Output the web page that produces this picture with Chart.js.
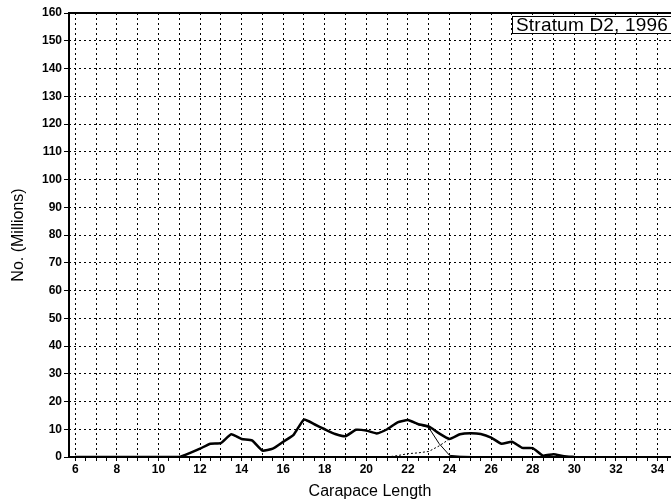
<!DOCTYPE html>
<html>
<head>
<meta charset="utf-8">
<script src="https://cdn.jsdelivr.net/npm/chart.js@4.4.1/dist/chart.umd.min.js"></script>
<style>
  html, body { margin: 0; padding: 0; background: #fff; }
  #wrap { position: relative; width: 671px; height: 504px; }
  #box { position: absolute; left: 512px; top: 16px; width: 170px; height: 16px;
         border: 1.5px solid #000; background: #fff; box-sizing: content-box;
         font: 19px "Liberation Sans", Arial, sans-serif; line-height: 16px;
         padding: 0 0 0 3px; letter-spacing: 0.2px; white-space: nowrap; color: #000; }
</style>
</head>
<body>
<div id="wrap">
  <canvas id="c" width="671" height="504"></canvas>
  <div id="box">Stratum D2, 1996</div>
</div>
<script>
// Carapace length categories (0.5 steps)
const lengths = [6,6.5,7,7.5,8,8.5,9,9.5,10,10.5,11,11.5,12,12.5,13,13.5,14,14.5,15,15.5,16,16.5,17,17.5,18,18.5,19,19.5,20,20.5,21,21.5,22,22.5,23,23.5,24,24.5,25,25.5,26,26.5,27,27.5,28,28.5,29,29.5,30];
// Total abundance (millions) - thick line
const totalValues = [0,0,0,0,0,0,0,0,0,0,0,1.4,3,4.8,5,8.2,6.5,6,2.3,3,5.5,8,13.5,11.8,10,8.3,7.5,9.8,9.5,8.5,10,12.5,13.3,11.8,11,8.5,6.5,8.2,8.6,8.3,7,4.8,5.5,3.3,3.2,0.5,1,0.3,0];
// Component 1 - thin solid line
const comp1Values = [0,0,0,0,0,0,0,0,0,0,0,1.4,3,4.8,5,8.2,6.5,6,2.3,3,5.5,8,13.5,11.8,10,8.3,7.5,9.8,9.5,8.5,10,12.5,13.3,11.6,10.6,4.8,0.6,0.3,0.2,0,0,0,0,0,0,0,0,0,0];
// Component 2 - dotted line
const comp2Values = [0,0,0,0,0,0,0,0,0,0,0,0,0,0,0,0,0,0,0,0,0,0,0,0,0,0,0,0,0,0,0,0.5,1.2,1.5,2,4,6.5,8.2,8.6,8.3,7,4.8,5.5,3.3,3.2,0.5,1,0.3,0];
// Axis tick labels
const xTickLabels = [6,8,10,12,14,16,18,20,22,24,26,28,30,32,34];
const yTickValues = [0,10,20,30,40,50,60,70,80,90,100,110,120,130,140,150,160];

const pts = arr => lengths.map((x, i) => ({x: x, y: arr[i]}));
const FONT = '"Liberation Sans", Arial, Helvetica, sans-serif';

new Chart(document.getElementById('c'), {
  type: 'line',
  data: {
    datasets: [
      { label: 'Component 2', data: pts(comp2Values), borderColor: '#000', borderWidth: 1,
        borderDash: [2, 2], pointRadius: 0, fill: false, tension: 0 },
      { label: 'Component 1', data: pts(comp1Values), borderColor: '#000', borderWidth: 1,
        pointRadius: 0, fill: false, tension: 0 },
      { label: 'Total', data: pts(totalValues), borderColor: '#000', borderWidth: 2.5,
        pointRadius: 0, fill: false, tension: 0.15 }
    ]
  },
  options: {
    responsive: false,
    animation: false,
    layout: { padding: { top: 13, right: 0, left: 0, bottom: 0 } },
    plugins: { legend: { display: false }, tooltip: { enabled: false } },
    scales: {
      x: {
        type: 'linear', min: 5.7, max: 34.65,
        afterBuildTicks: s => {
          const t = [];
          for (let v = 6; v <= 34.5; v += 0.5) t.push({ value: v });
          s.ticks = t;
        },
        afterFit: s => { s.height = 47; },
        ticks: {
          autoSkip: false, maxRotation: 0, padding: 1,
          color: '#000', font: { family: FONT, size: 12, weight: 'bold' },
          callback: v => xTickLabels.includes(v) ? String(v) : ''
        },
        grid: {
          color: ctx => (ctx.tick && Number.isInteger(ctx.tick.value)) ? '#000' : 'rgba(0,0,0,0)',
          lineWidth: 1, tickColor: '#000', tickLength: 4, tickWidth: 1
        },
        border: { display: false, dash: [2, 3] },
        title: { display: true, text: 'Carapace Length', color: '#000',
                 font: { family: FONT, size: 16 }, padding: { top: 0, bottom: 2.5 } }
      },
      y: {
        min: 0, max: 160,
        afterBuildTicks: s => { s.ticks = yTickValues.map(v => ({ value: v })); },
        afterFit: s => { s.width = 69; },
        ticks: { padding: 2, color: '#000', font: { family: FONT, size: 12, weight: 'bold' } },
        grid: { color: '#000', lineWidth: 1, tickColor: '#000', tickLength: 5, tickWidth: 1 },
        border: { display: false, dash: [2, 3] },
        title: { display: true, text: 'No. (Millions)', color: '#000',
                 font: { family: FONT, size: 16 }, padding: { top: 9, bottom: 0 } }
      }
    }
  },
  plugins: [{
    id: 'frame',
    afterDraw(chart) {
      const { ctx, chartArea: a } = chart;
      ctx.save();
      ctx.strokeStyle = '#000';
      ctx.setLineDash([]);
      ctx.lineWidth = 2;
      ctx.beginPath();
      ctx.moveTo(a.right, a.top); ctx.lineTo(a.left, a.top);
      ctx.lineTo(a.left, a.bottom); ctx.lineTo(a.right, a.bottom);
      ctx.stroke();
      ctx.restore();
    }
  }]
});
</script>
</body>
</html>
